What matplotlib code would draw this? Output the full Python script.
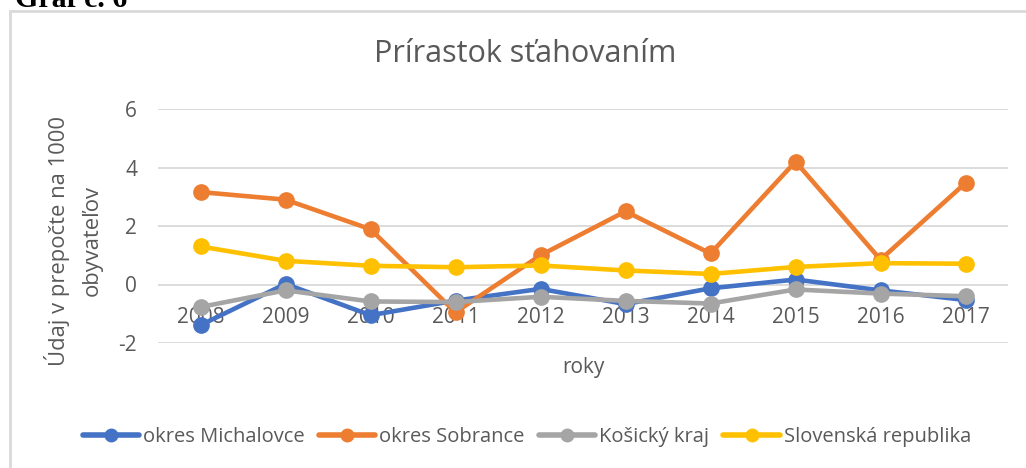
import matplotlib.pyplot as plt
from matplotlib.patches import Rectangle

# ---------------------------------------------------------------------------
# Data
# ---------------------------------------------------------------------------
years = ["2008", "2009", "2010", "2011", "2012", "2013", "2014", "2015", "2016", "2017"]
michalovce = [-1.39, 0.02, -1.05, -0.55, -0.15, -0.67, -0.13, 0.17, -0.2, -0.53]
sobrance = [3.16, 2.9, 1.89, -0.95, 1.0, 2.5, 1.06, 4.2, 0.85, 3.47]
kosicky = [-0.77, -0.2, -0.58, -0.6, -0.42, -0.56, -0.65, -0.17, -0.31, -0.4]
slovensko = [1.3, 0.81, 0.64, 0.59, 0.65, 0.48, 0.36, 0.6, 0.73, 0.71]

series = [
    ("okres Michalovce", michalovce, "#4472C4"),
    ("okres Sobrance", sobrance, "#ED7D31"),
    ("Košický kraj", kosicky, "#A5A5A5"),
    ("Slovenská republika", slovensko, "#FFC000"),
]

TEXT = "#595959"
FONT = ["Open Sans", "DejaVu Sans"]
plt.rcParams["axes.unicode_minus"] = False

W, H = 1026, 468
fig = plt.figure(figsize=(W / 100, H / 100), dpi=100)

# chart frame (right and bottom edges run off the image)
fig.patches.append(Rectangle((10 / W, -0.1), 1.1, 1.1 - 11.5 / H,
                             transform=fig.transFigure, fill=False,
                             edgecolor="#D9D9D9", linewidth=2))
fig.text(15 / W, 1 - 7 / H, "Graf č. 6", fontsize=21.5, fontweight="bold",
         family="Liberation Serif", va="baseline", ha="left")

ax = fig.add_axes([158 / W, 1 - 343 / H, 850 / W, 234 / H])
x = list(range(len(years)))
for name, vals, color in series:
    ax.plot(x, vals, color=color, linewidth=3.3, marker="o", markersize=11,
            label=name, solid_capstyle="round")

ax.set_xlim(-0.5, len(years) - 0.5)
ax.set_ylim(-2, 6)
ax.set_yticks([-2, 0, 2, 4, 6])
ax.grid(axis="y", color="#D9D9D9", linewidth=1.3)
ax.set_axisbelow(True)
for s in ax.spines.values():
    s.set_visible(False)
ax.spines["bottom"].set_position(("data", 0))
ax.set_xticks(x)
ax.set_xticklabels(years)
ax.tick_params(axis="both", length=0, labelsize=15, labelcolor=TEXT)
ax.tick_params(axis="x", pad=16.5)
ax.tick_params(axis="y", pad=15)
for lbl in ax.get_xticklabels() + ax.get_yticklabels():
    lbl.set_family(FONT)

fig.text(525 / W, 1 - 62 / H, "Prírastok sťahovaním", fontsize=22,
         color=TEXT, ha="center", va="baseline", family=FONT)
fig.text(583 / W, 1 - 367 / H, "roky", fontsize=15, color=TEXT,
         ha="center", va="center", family=FONT)
# y-axis title, two centred lines
fig.text(57 / W, 1 - 241 / H, "Údaj v prepočte na 1000", fontsize=15.8,
         color=TEXT, ha="center", va="center", rotation=90, family=FONT)
fig.text(92 / W, 1 - 241 / H, "obyvateľov", fontsize=15.8,
         color=TEXT, ha="center", va="center", rotation=90, family=FONT)

leg = fig.legend(loc="center", bbox_to_anchor=(527 / W, 1 - 437 / H), ncol=4,
                 frameon=False, handlelength=2.8, handletextpad=0.2,
                 columnspacing=0.7, prop={"family": FONT, "size": 14.5})
for t in leg.get_texts():
    t.set_color(TEXT)
for h in leg.legend_handles:
    h.set_markersize(9)
    h.set_linewidth(4)

fig.savefig("out.png", dpi=100)
